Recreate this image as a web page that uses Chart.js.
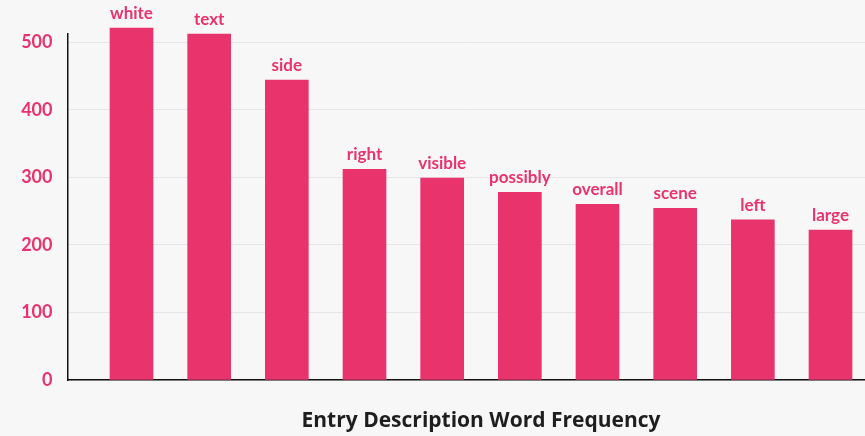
<!DOCTYPE html>
<html>
<head>
<meta charset="utf-8">
<script src="https://cdn.jsdelivr.net/npm/chart.js@4"></script>
<style>
  html, body { margin: 0; padding: 0; background: #f7f7f8; }
  #wrap { width: 865px; height: 436px; position: relative; }
</style>
</head>
<body>
<div id="wrap"><canvas id="chart"></canvas></div>
<script>
(function() {
  'use strict';

  // ── Data ──
  var words = ['white', 'text', 'side', 'right', 'visible', 'possibly', 'overall', 'scene', 'left', 'large'];
  var counts = [521, 512, 444, 312, 299, 278, 260, 254, 237, 222];
  var yTicks = [0, 100, 200, 300, 400, 500];
  var xTitle = 'Entry Description Word Frequency';

  var PINK = '#e8336d';
  var FONT = 'Lato, "Open Sans", sans-serif';

  var points = [];
  for (var i = 0; i < counts.length; i++) points.push({ x: i, y: counts[i] });

  // ── Word label above each bar ──
  var barLabels = {
    id: 'barLabels',
    afterDatasetsDraw: function(chart) {
      var ctx = chart.ctx;
      var meta = chart.getDatasetMeta(0);
      ctx.save();
      ctx.fillStyle = PINK;
      ctx.font = 'bold 17px ' + FONT;
      ctx.textAlign = 'center';
      ctx.textBaseline = 'alphabetic';
      meta.data.forEach(function(bar, i) {
        ctx.fillText(words[i], bar.x, bar.y - 9);
      });
      ctx.restore();
    }
  };

  // ── Bottom title centred under the bars ──
  var bottomTitle = {
    id: 'bottomTitle',
    afterDraw: function(chart) {
      var ctx = chart.ctx;
      var xs = chart.scales.x;
      ctx.save();
      ctx.fillStyle = '#1e1e1e';
      ctx.font = 'bold 21px "Open Sans", sans-serif';
      ctx.textAlign = 'center';
      ctx.textBaseline = 'alphabetic';
      ctx.fillText(xTitle, xs.getPixelForValue((words.length - 1) / 2), 427);
      ctx.restore();
    }
  };

  new Chart(document.getElementById('chart'), {
    type: 'bar',
    data: {
      datasets: [{
        data: points,
        backgroundColor: PINK,
        borderWidth: 0,
        barThickness: 43,
        clip: false
      }]
    },
    options: {
      responsive: true,
      maintainAspectRatio: false,
      animation: false,
      layout: { padding: { top: 34, bottom: 56, right: 0, left: 0 } },
      plugins: { legend: { display: false }, tooltip: { enabled: false } },
      scales: {
        x: {
          type: 'linear',
          min: -0.824,
          max: 9.444,
          offset: false,
          grid: { display: false, drawTicks: false },
          border: { display: true, color: '#111', width: 1.5 },
          ticks: { display: false },
          afterFit: function(s) { s.height = 0; }
        },
        y: {
          min: 0,
          max: 512.3,
          afterBuildTicks: function(s) { s.ticks = yTicks.map(function(v) { return { value: v }; }); },
          grid: { color: '#e6e6e8', lineWidth: 1, drawTicks: false },
          border: { display: true, color: '#111', width: 1.5 },
          ticks: {
            color: PINK,
            padding: 15,
            font: { family: FONT, size: 18, weight: 'bold' }
          },
          afterFit: function(s) { s.width = 67.5; }
        }
      }
    },
    plugins: [barLabels, bottomTitle]
  });
})();
</script>
</body>
</html>
